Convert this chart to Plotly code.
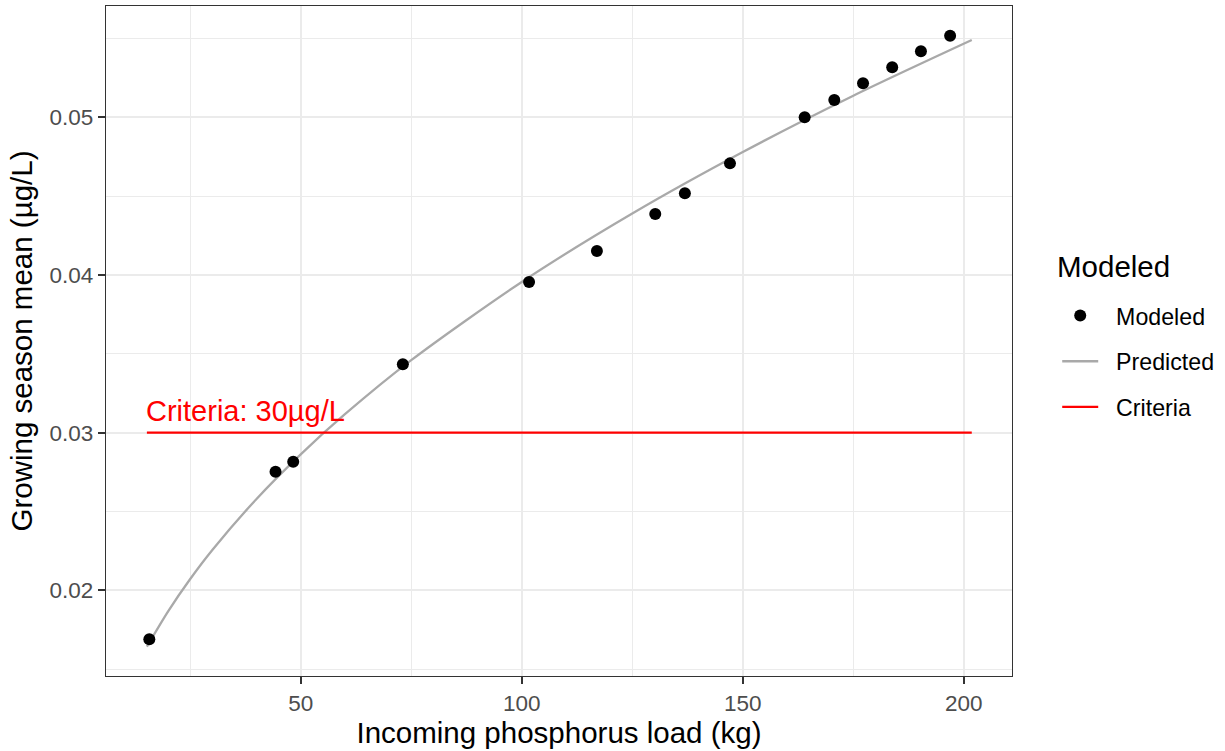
import plotly.graph_objects as go

# Modeled points
load_kg = [15.75, 44.3, 48.3, 73.1, 101.65, 117.0, 130.2, 136.9, 147.1,
           164.0, 170.7, 177.2, 183.8, 190.3, 196.9]
modeled = [0.0169, 0.02753, 0.02816, 0.03434, 0.03956, 0.04152, 0.04387, 0.04518, 0.04708,
           0.0500, 0.0511, 0.05216, 0.05317, 0.05419, 0.05517]

# Predicted curve
pred_x = [15.2, 20, 25, 30, 40, 50, 60, 75, 100, 125, 150, 175, 201.8]
pred_y = [0.01643, 0.01867, 0.02072, 0.02256, 0.02580, 0.02863, 0.03117, 0.03460,
          0.03956, 0.04390, 0.04780, 0.05137, 0.0549]

# Criteria line
crit_x = [15.2, 201.8]
crit_y = [0.03, 0.03]
crit_label = "Criteria: 30µg/L"

x_ticks = [50, 100, 150, 200]
y_ticks = [0.02, 0.03, 0.04, 0.05]
y_ticktext = ["0.02", "0.03", "0.04", "0.05"]

FONT = "Liberation Sans, Arial, sans-serif"
PAD = "\u00a0\u00a0"  # small gap between legend key and label

fig = go.Figure()
fig.add_trace(go.Scatter(
    x=pred_x, y=pred_y, mode="lines", name=PAD + "Predicted", legendgroup="b", legendrank=2,
    line=dict(color="#A9A9A9", width=2.3, shape="spline", smoothing=0.8),
))
fig.add_trace(go.Scatter(
    x=crit_x, y=crit_y, mode="lines", name=PAD + "Criteria", legendgroup="c", legendrank=3,
    line=dict(color="#FF0000", width=2.2),
))
fig.add_trace(go.Scatter(
    x=load_kg, y=modeled, mode="markers", name=PAD + "Modeled", legendgroup="a", legendrank=1,
    marker=dict(color="black", size=12),
))

fig.add_annotation(
    x=crit_x[0], y=crit_y[0], xref="x", yref="y", text=crit_label,
    showarrow=False, xanchor="left", yanchor="bottom", yshift=4, xshift=-3,
    font=dict(family=FONT, size=29, color="#FF0000"),
)

# legend title drawn as text
fig.add_annotation(
    x=1.0, xref="paper", xanchor="left", xshift=43,
    y=1 - (266 - 6) / 670, yref="paper", yanchor="middle",
    text="Modeled", showarrow=False,
    font=dict(family=FONT, size=29.5, color="black"),
)

axis_common = dict(
    showline=True, mirror=True, linecolor="#333333", linewidth=1.3,
    ticks="outside", ticklen=7, tickwidth=1.6, tickcolor="#333333",
    showgrid=True, gridcolor="#EBEBEB", gridwidth=1.5,
    zeroline=False,
    tickfont=dict(family=FONT, size=22.5, color="#4D4D4D"),
)

fig.update_xaxes(
    range=[5.95, 210.9], tickvals=x_ticks, ticktext=[str(v) for v in x_ticks],
    minor=dict(dtick=25, tick0=0, showgrid=True, gridcolor="#EBEBEB", gridwidth=0.8, ticks=""),
    title=dict(text="Incoming phosphorus load (kg)", font=dict(family=FONT, size=29.5, color="black"),
               standoff=5),
    **axis_common,
)
fig.update_yaxes(
    range=[0.01457, 0.05706], tickvals=y_ticks, ticktext=y_ticktext,
    minor=dict(dtick=0.005, tick0=0, showgrid=True, gridcolor="#EBEBEB", gridwidth=0.8, ticks=""),
    title=dict(text="Growing season mean (µg/L)", font=dict(family=FONT, size=29.5, color="black"),
               standoff=8),
    **axis_common,
)

fig.update_layout(
    width=1225, height=751,
    margin=dict(l=106, r=213, t=6, b=75, autoexpand=False),
    paper_bgcolor="white", plot_bgcolor="white",
    showlegend=True,
    legend=dict(
        font=dict(family=FONT, size=23.2, color="black"),
        traceorder="grouped", tracegroupgap=12.5, itemwidth=36,
        x=1.0499, xanchor="left", y=1 - (294 - 6) / 670, yanchor="top",
        bgcolor="rgba(0,0,0,0)",
    ),
)

fig.write_html("out.html", config={"displayModeBar": False},
               post_script="document.body.style.margin='0';")
